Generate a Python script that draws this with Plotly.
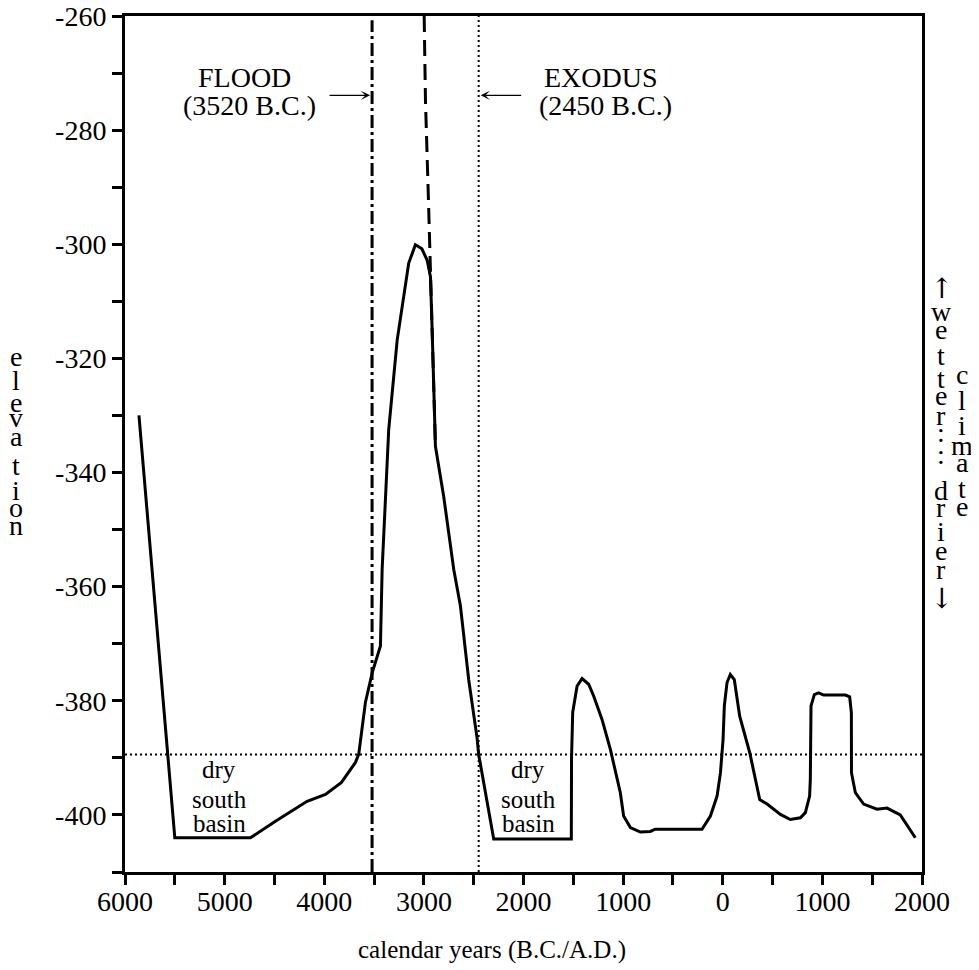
import plotly.graph_objects as go

# ---------------- data ----------------
years = [-5860, -5500, -4740, -4490, -4172, -3988, -3827, -3687, -3654, -3587, -3519, -3436,
         -3419, -3386, -3353, -3268, -3152, -3085, -3020, -2967, -2934, -2917, -2884, -2801,
         -2700, -2633, -2550, -2466, -2450, -2299, -1520, -1518, -1506, -1462, -1412, -1346,
         -1295, -1211, -1128, -1028, -995, -927, -827, -727, -677, -208, -124, -57, -23, 3,
         16, 43, 76, 116, 170, 271, 371, 445, 579, 678, 779, 829, 872, 879, 886, 919, 962,
         1013, 1231, 1274, 1291, 1292, 1331, 1414, 1548, 1649, 1782, 1933]
elevation = [-330, -404, -404, -401.1, -397.6, -396.4, -394.3, -390.8, -389.4, -380.3, -375.1, -370.4,
             -357, -344.8, -332.5, -316.8, -303.3, -300.1, -300.8, -302.8, -305.7, -315, -335.4, -344.2,
             -357, -363.4, -376.3, -386.5, -389.4, -404.2, -404.2, -390.2, -382, -377.4, -376.1, -377.1,
             -379.2, -383.3, -388.5, -396.1, -400.2, -402.2, -403, -402.9, -402.5, -402.5, -400.2, -396.7, -392.6, -386.8,
             -380.9, -376.8, -375.4, -376.3, -382.7, -389.1, -397.3, -398.1, -399.9, -400.8, -400.5, -399.6, -396.7, -393.8, -380.9, -378.9, -378.6,
             -379, -379, -379.3, -382.1, -392.6, -396.1, -398.1, -399, -398.8, -400, -404]

dash_years = [-2997, -2984, -2954, -2934, -2917, -2884]
dash_elevation = [-260, -274.8, -292.3, -303.9, -315, -335.4]

FLOOD_YEAR = -3520
EXODUS_YEAR = -2450
DRY_LEVEL = -389.4
ARROW_LEVEL = -273.9

x_tick_vals = list(range(-6000, 2001, 500))
x_tick_text = ["6000", "", "5000", "", "4000", "", "3000", "", "2000", "", "1000", "",
               "0", "", "1000", "", "2000"]
y_tick_vals = list(range(-410, -259, 10))
y_tick_text = ["", "-400", "", "-380", "", "-360", "", "-340", "", "-320", "", "-300",
               "", "-280", "", "-260"]

FONT = "Liberation Serif"
ARROW_FONT = "DejaVu Serif"

# ---------------- figure ----------------
fig = go.Figure()
fig.add_trace(go.Scatter(x=dash_years, y=dash_elevation, mode="lines",
                         line=dict(color="black", width=3, dash="16px,8px"),
                         hoverinfo="skip", showlegend=False))
fig.add_trace(go.Scatter(x=years, y=elevation, mode="lines",
                         line=dict(color="black", width=3),
                         hoverinfo="skip", showlegend=False))

shapes = [
    dict(type="line", xref="x", yref="paper", x0=FLOOD_YEAR, x1=FLOOD_YEAR, y0=0, y1=0.995,
         line=dict(color="black", width=3, dash="13px,4px,3px,4px")),
    dict(type="line", xref="x", yref="paper", x0=EXODUS_YEAR, x1=EXODUS_YEAR, y0=0, y1=1,
         line=dict(color="black", width=2, dash="2px,3px")),
    dict(type="line", xref="paper", yref="y", x0=0, x1=1, y0=DRY_LEVEL, y1=DRY_LEVEL,
         line=dict(color="black", width=2, dash="2px,3px")),
]

# page offset of the figure inside the HTML body
OFF = 8
W, H = 971, 962
L, R, T, B = 117, 57, 8, 98
PW, PH = W - L - R, H - T - B


def px2paper(px, py):
    return (px - OFF - L) / PW, (H - B - (py - OFF)) / PH


annotations = []


def add_text(text, px, py, size, family=FONT):
    xp, yp = px2paper(px, py)
    annotations.append(dict(text=text, xref="paper", yref="paper", x=xp, y=yp,
                            xanchor="center", yanchor="middle", showarrow=False,
                            font=dict(family=family, size=size, color="black")))


# labels inside the plot
add_text("FLOOD", 244, 78, 28)
add_text("(3520 B.C.)", 249, 105.5, 28)
add_text("EXODUS", 601, 78, 28)
add_text("(2450 B.C.)", 605.5, 105.5, 28)
for cx in (219, 528):
    add_text("dry", cx, 769.6, 25)
    add_text("south", cx, 799.6, 25)
    add_text("basin", cx, 823.6, 25)

# x axis title
add_text("calendar years (B.C./A.D.)", 492, 949.6, 25)

# stacked y title
elev_letters = list("elevation")
elev_pos = [357, 380, 402, 417, 437, 465.4, 490, 507, 525.3]
for ch, py in zip(elev_letters, elev_pos):
    add_text(ch, 16, py, 28)

col1 = ["↑", "w", "e", "t", "t", "e", "r", ":", ":", "d", "r", "i", "e", "r", "↓"]
col1_pos = [288, 311, 329, 355, 378.7, 395.5, 415.5, 432, 454.5, 490, 507, 531.7, 550.3, 569.5, 598]
for ch, py in zip(col1, col1_pos):
    add_text(ch, 941, py, 28, ARROW_FONT if ch in "↑↓" else FONT)
col2 = list("climate")
col2_pos = [374.5, 400, 425.8, 445.3, 462.8, 488.7, 506.2]
for ch, py in zip(col2, col2_pos):
    add_text(ch, 962, py, 28)

# arrows
annotations.append(dict(x=FLOOD_YEAR, y=ARROW_LEVEL, xref="x", yref="y", ax=-44, ay=0,
                        showarrow=True, arrowhead=3, arrowsize=1.3, arrowwidth=1.2,
                        standoff=2, arrowcolor="black", text=""))
annotations.append(dict(x=EXODUS_YEAR, y=ARROW_LEVEL, xref="x", yref="y", ax=44, ay=0,
                        showarrow=True, arrowhead=3, arrowsize=1.3, arrowwidth=1.2,
                        standoff=2, arrowcolor="black", text=""))

axis_common = dict(showline=True, linecolor="black", linewidth=3, mirror=True,
                   ticks="outside", ticklen=10, tickwidth=2.5, tickcolor="black",
                   showgrid=False, zeroline=False, automargin=False,
                   ticklabeloverflow="allow",
                   tickfont=dict(family=FONT, size=28, color="black"))

fig.update_layout(
    width=W, height=H,
    margin=dict(l=L, r=R, t=T, b=B, autoexpand=False),
    paper_bgcolor="white", plot_bgcolor="white",
    xaxis=dict(range=[-6000, 2000], tickmode="array", tickvals=x_tick_vals,
               ticktext=x_tick_text, ticklabelstandoff=-8, **axis_common),
    yaxis=dict(range=[-410, -260], tickmode="array", tickvals=y_tick_vals,
               ticktext=y_tick_text, **axis_common),
    shapes=shapes,
    annotations=annotations,
    showlegend=False,
)

fig.write_html("out.html")
